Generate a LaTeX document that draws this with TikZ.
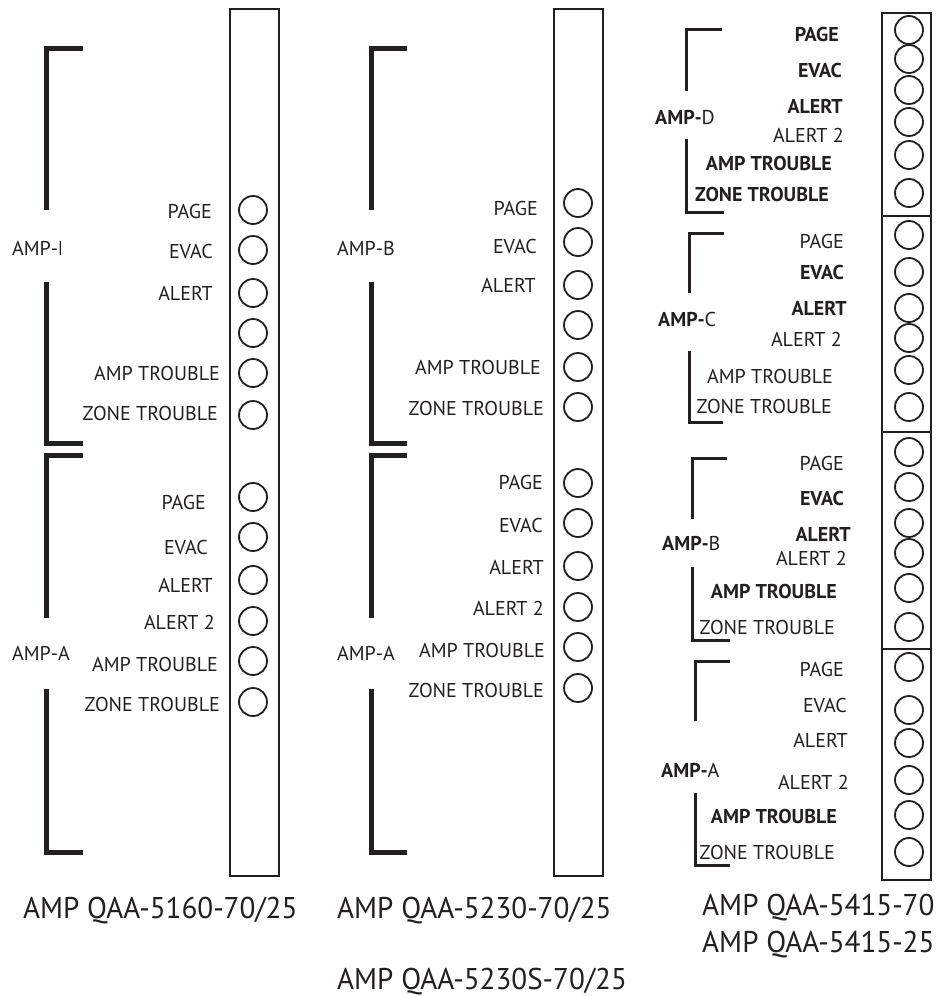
\documentclass[tikz,border=0pt]{standalone}
\usepackage{fontspec}
\setmainfont{PT Sans}
\newfontfamily\titlefont{PT Sans}[FakeStretch=0.97]
\definecolor{ink}{HTML}{231F20}
\begin{document}
\begin{tikzpicture}[x=1pt,y=-1pt,
 lbl/.style={anchor=east,inner sep=0pt,text=ink,font=\fontsize{20}{20}\selectfont},
 amp/.style={anchor=west,inner sep=0pt,text=ink,font=\fontsize{20}{20}\selectfont},
 ttl/.style={anchor=base west,inner sep=0pt,text=ink,font=\titlefont\fontsize{30}{30}\selectfont},
 led/.style={circle,draw=ink,line width=1.8pt,minimum size=28pt,inner sep=0pt},
 strip/.style={draw=ink,line width=2pt},
 brk/.style={draw=ink,line width=5pt},
 brks/.style={draw=ink,line width=3pt}]
\useasboundingbox (0,0) rectangle (938,996);

% ---------- strips ----------
\draw[strip] (230,9) rectangle (279,876);
\draw[strip] (554,9) rectangle (603,876);
\draw[strip] (882,13) rectangle (931,880);
\draw[strip] (882,216) -- (931,216);
\draw[strip] (882,432) -- (931,432);
\draw[strip] (882,649) -- (931,649);

% ---------- LEDs ----------
\foreach \y [count=\i] in {210,250,293,333,373,415,497,537,580,621,661,702}
  \node[led] (p1l\i) at (253,\y) {};
\foreach \y [count=\i] in {203,242,285,325,367,407,483,523,566,607,647,688}
  \node[led] (p2l\i) at (578,\y) {};
\foreach \y [count=\i] in {30,59,90,122,155,193,235,272,308,338,370,407,452,487,523,553,588,627,667,710,743,780,815,852}
  \node[led] (p3l\i) at (909,\y) {};

% ---------- panel 1 labels ----------
\node[lbl] (p1t1) at (212,211) {PAGE};
\node[lbl] (p1t2) at (213,251) {EVAC};
\node[lbl] (p1t3) at (213,293) {ALERT};
\node[lbl] (p1t5) at (220,373) {AMP TROUBLE};
\node[lbl] (p1t6) at (218,413) {ZONE TROUBLE};
\node[lbl] (p1t7) at (206,502) {PAGE};
\node[lbl] (p1t8) at (208,547) {EVAC};
\node[lbl] (p1t9) at (213,585) {ALERT};
\node[lbl] (p1t10) at (215,622) {ALERT 2};
\node[lbl] (p1t11) at (218,664) {AMP TROUBLE};
\node[lbl] (p1t12) at (220,704) {ZONE TROUBLE};

\begin{scope}
  \clip (0,230) rectangle (60,270);
  \node[amp] (p1b) at (12,248) {AMP-B};
\end{scope}
\node[amp] (p1a) at (12,653) {AMP-A};

\draw[brk] (83,48) -- (46,48) -- (46,210);
\draw[brk] (46,282) -- (46,443) -- (83,443);
\draw[brk] (83,455) -- (46,455) -- (46,618);
\draw[brk] (46,689) -- (46,852) -- (83,852);

% ---------- panel 2 labels ----------
\node[lbl] (p2t1) at (538,208) {PAGE};
\node[lbl] (p2t2) at (537,246) {EVAC};
\node[lbl] (p2t3) at (536,285) {ALERT};
\node[lbl] (p2t5) at (541,367) {AMP TROUBLE};
\node[lbl] (p2t6) at (544,408) {ZONE TROUBLE};
\node[lbl] (p2t7) at (543,482) {PAGE};
\node[lbl] (p2t8) at (543,525) {EVAC};
\node[lbl] (p2t9) at (544,567) {ALERT};
\node[lbl] (p2t10) at (544,608) {ALERT 2};
\node[lbl] (p2t11) at (545,650) {AMP TROUBLE};
\node[lbl] (p2t12) at (544,690) {ZONE TROUBLE};

\node[amp] (p2b) at (337,248) {AMP-B};
\node[amp] (p2a) at (337,653) {AMP-A};

\draw[brk] (407,48) -- (371,48) -- (371,210);
\draw[brk] (371,282) -- (371,443) -- (407,443);
\draw[brk] (407,455) -- (371,455) -- (371,618);
\draw[brk] (371,689) -- (371,852) -- (407,852);

% ---------- panel 3 labels ----------
% AMP-D
\node[lbl] (p3t1) at (839,34) {\textbf{PAGE}};
\node[lbl] (p3t2) at (842,70) {\textbf{EVAC}};
\node[lbl] (p3t3) at (843,106) {\textbf{ALERT}};
\node[lbl] (p3t4) at (844,135) {ALERT 2};
\node[lbl] (p3t5) at (832,163) {\textbf{AMP TROUBLE}};
\node[lbl] (p3t6) at (829,194) {\textbf{ZONE TROUBLE}};
\node[amp] (p3d) at (655,117) {\textbf{AMP-}D};
\draw[brks] (722,29) -- (686,29) -- (686,91);
\draw[brks] (686,139) -- (686,212) -- (724,212);
% AMP-C
\node[lbl] (p3t7) at (844,241) {PAGE};
\node[lbl] (p3t8) at (844,272) {\textbf{EVAC}};
\node[lbl] (p3t9) at (847,308) {\textbf{ALERT}};
\node[lbl] (p3t10) at (842,339) {ALERT 2};
\node[lbl] (p3t11) at (833,376) {AMP TROUBLE};
\node[lbl] (p3t12) at (832,406) {ZONE TROUBLE};
\node[amp] (p3c) at (658,319) {\textbf{AMP-}C};
\draw[brks] (724,233) -- (689,233) -- (689,293);
\draw[brks] (689,351) -- (689,422) -- (723,422);
% AMP-B
\node[lbl] (p3t13) at (844,463) {PAGE};
\node[lbl] (p3t14) at (844,498) {\textbf{EVAC}};
\node[lbl] (p3t15) at (851,534) {\textbf{ALERT}};
\node[lbl] (p3t16) at (847,558) {ALERT 2};
\node[lbl] (p3t17) at (837,591) {\textbf{AMP TROUBLE}};
\node[lbl] (p3t18) at (835,627) {ZONE TROUBLE};
\node[amp] (p3b) at (662,543) {\textbf{AMP-}B};
\draw[brks] (727,458) -- (692,458) -- (692,519);
\draw[brks] (692,567) -- (692,640) -- (730,640);
% AMP-A
\node[lbl] (p3t19) at (844,669) {PAGE};
\node[lbl] (p3t20) at (847,705) {EVAC};
\node[lbl] (p3t21) at (848,740) {ALERT};
\node[lbl] (p3t22) at (849,782) {ALERT 2};
\node[lbl] (p3t23) at (837,816) {\textbf{AMP TROUBLE}};
\node[lbl] (p3t24) at (835,852) {ZONE TROUBLE};
\node[amp] (p3a) at (661,770) {\textbf{AMP-}A};
\draw[brks] (730,661) -- (695,661) -- (695,721);
\draw[brks] (695,793) -- (695,865) -- (730,865);

% ---------- titles ----------
\node[ttl] (ttl1) at (23,918) {AMP QAA-5160-70/25};
\node[ttl] (ttl2) at (337,918) {AMP QAA-5230-70/25};
\node[ttl] (ttl3) at (337,989) {AMP QAA-5230S-70/25};
\node[ttl] (ttl4) at (702,915) {AMP QAA-5415-70};
\node[ttl] (ttl5) at (702,952) {AMP QAA-5415-25};
\end{tikzpicture}
\end{document}
